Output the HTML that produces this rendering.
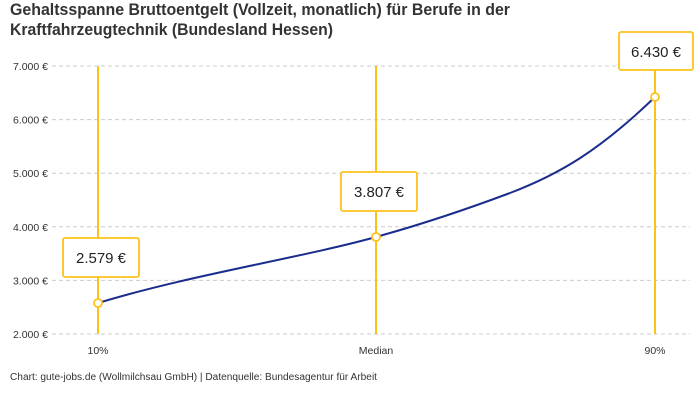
<!DOCTYPE html>
<html><head><meta charset="utf-8"><style>
body{margin:0;background:#fff;width:700px;height:400px;overflow:hidden;font-family:"Liberation Sans",sans-serif;}
</style></head><body>
<svg width="700" height="400" xmlns="http://www.w3.org/2000/svg" style="position:absolute;left:0;top:0">
<g font-family="Liberation Sans, sans-serif">
<text x="10" y="15" font-size="16.5" font-weight="bold" fill="#333" textLength="500" lengthAdjust="spacingAndGlyphs">Gehaltsspanne Bruttoentgelt (Vollzeit, monatlich) für Berufe in der</text>
<text x="10" y="35" font-size="16.5" font-weight="bold" fill="#333" textLength="323" lengthAdjust="spacingAndGlyphs">Kraftfahrzeugtechnik (Bundesland Hessen)</text>
<g stroke="#ccc" stroke-dasharray="4,3" stroke-width="1">
<line x1="52" x2="690" y1="66" y2="66"/><line x1="52" x2="690" y1="119.6" y2="119.6"/>
<line x1="52" x2="690" y1="173.2" y2="173.2"/><line x1="52" x2="690" y1="226.8" y2="226.8"/>
<line x1="52" x2="690" y1="280.4" y2="280.4"/><line x1="52" x2="690" y1="334" y2="334"/>
</g>
<g font-size="10.5" fill="#333" text-anchor="end">
<text x="48" y="70">7.000 €</text><text x="48" y="123.6">6.000 €</text><text x="48" y="177.2">5.000 €</text>
<text x="48" y="230.8">4.000 €</text><text x="48" y="284.4">3.000 €</text><text x="48" y="338">2.000 €</text>
</g>
<g stroke="#fcc21b" stroke-width="2">
<line x1="98" x2="98" y1="66" y2="334"/><line x1="376" x2="376" y1="66" y2="334"/><line x1="655" x2="655" y1="66" y2="334"/>
</g>
<path d="M98,303 C190,275 300,258 376,237 C430,222 470,208 510,193 C560,174 600,150 655,97" fill="none" stroke="#1a2d8c" stroke-width="2"/>
<g fill="#fff" stroke="#fcc21b" stroke-width="1.8">
<circle cx="98" cy="303" r="4"/><circle cx="376" cy="237" r="4"/><circle cx="655" cy="97" r="4"/>
<rect x="63" y="238" width="76" height="39" rx="2"/>
<rect x="341" y="172" width="76" height="39" rx="2"/>
<rect x="619" y="32" width="74" height="38" rx="2"/>
</g>
<g font-size="14.5" fill="#222" text-anchor="middle">
<text x="101" y="263" textLength="50" lengthAdjust="spacingAndGlyphs">2.579 €</text><text x="379" y="197" textLength="50" lengthAdjust="spacingAndGlyphs">3.807 €</text><text x="656" y="57" textLength="50" lengthAdjust="spacingAndGlyphs">6.430 €</text>
</g>
<g font-size="10.5" fill="#333" text-anchor="middle">
<text x="98" y="354">10%</text><text x="376" y="354">Median</text><text x="655" y="354">90%</text>
</g>
<text x="10" y="380" font-size="10" fill="#333" textLength="367" lengthAdjust="spacingAndGlyphs">Chart: gute-jobs.de (Wollmilchsau GmbH) | Datenquelle: Bundesagentur für Arbeit</text>
</g>
</svg>
</body></html>
